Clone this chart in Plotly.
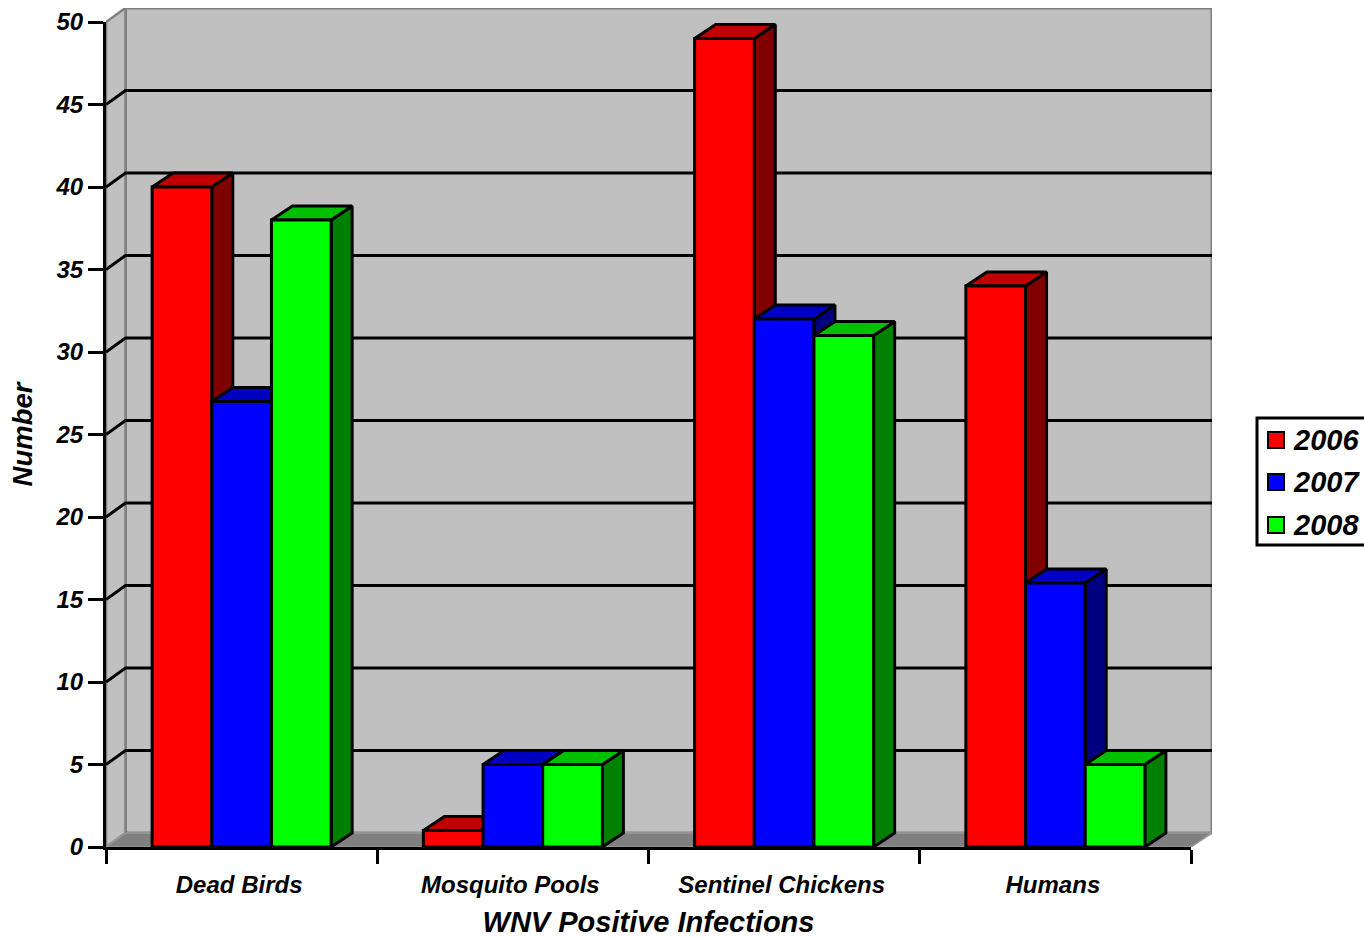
import plotly.graph_objects as go

# Chart data
categories = ["Dead Birds", "Mosquito Pools", "Sentinel Chickens", "Humans"]
years = ["2006", "2007", "2008"]
values_2006 = [40, 1, 49, 34]
values_2007 = [27, 5, 32, 16]
values_2008 = [38, 5, 31, 5]
y_ticks = [0, 5, 10, 15, 20, 25, 30, 35, 40, 45, 50]

series = [values_2006, values_2007, values_2008]
front_colors = ["#ff0000", "#0000ff", "#00ff00"]
top_colors = ["#c00000", "#0000c0", "#00c000"]
side_colors = ["#800000", "#000080", "#008000"]

FONT = "Liberation Sans"
W, H = 1364, 938
LEFT, RIGHT, BACK_RIGHT = 106, 1191, 1212
BASE, TOP, BACK_TOP = 847, 22, 8
INK = 3

# Oblique projection offsets, expressed in data units of the front axes
n_cat = len(categories)
x_unit = (RIGHT - LEFT) / n_cat
y_unit = (BASE - TOP) / y_ticks[-1]
DX = 21 / x_unit
DY = 14 / y_unit
WALL_DX = 19.5 / x_unit
BAR_W = 0.22
LABEL_SHIFT = -2.5 / x_unit

fig = go.Figure()


def polygon(xs, ys, fill, line="#000000", width=INK):
    fig.add_trace(go.Scatter(
        x=xs + xs[:1], y=ys + ys[:1], mode="lines", fill="toself",
        fillcolor=fill, line=dict(color=line, width=width),
        hoverinfo="skip", showlegend=False, xaxis="x", yaxis="y",
    ))


x_max, y_max = n_cat, y_ticks[-1]

# Back wall, side wall and floor
polygon([WALL_DX, x_max + DX, x_max + DX, WALL_DX], [DY, DY, y_max + DY, y_max + DY], "#c0c0c0", "#808080", 3)
polygon([0, WALL_DX, WALL_DX, 0], [0, DY, y_max + DY, y_max], "#c0c0c0", "#808080", 2.5)
polygon([0, x_max, x_max + DX, WALL_DX], [0, 0, DY, DY], "#808080", "#999999", 1.5)

# Gridlines running along the side wall and across the back wall
for t in y_ticks[1:-1]:
    fig.add_trace(go.Scatter(
        x=[0, WALL_DX, x_max + DX], y=[t, t + DY, t + DY], mode="lines",
        line=dict(color="#000000", width=INK), hoverinfo="skip",
        showlegend=False, xaxis="x", yaxis="y",
    ))

# Top and side faces of each bar, painted left to right
for c in range(n_cat):
    centre = c + 0.5
    for s, vals in enumerate(series):
        v = vals[c]
        x0 = centre + (s - 1.5) * BAR_W
        x1 = x0 + BAR_W
        polygon([x1, x1 + DX, x1 + DX, x1], [0, DY, v + DY, v], side_colors[s])
        polygon([x0, x1, x1 + DX, x0 + DX], [v, v, v + DY, v + DY], top_colors[s])

# Front faces
for s, vals in enumerate(series):
    fig.add_trace(go.Bar(
        x=[c + 0.5 for c in range(n_cat)], y=vals, name=years[s],
        marker=dict(color=front_colors[s], line=dict(color="#000000", width=INK)),
        showlegend=False, xaxis="x2", yaxis="y2",
    ))

# Category labels sit on their own axis so tick marks can stay on the group boundaries
fig.add_trace(go.Scatter(x=[None], y=[None], showlegend=False, xaxis="x3", yaxis="y2"))


def font(size):
    return dict(family=FONT, size=size, color="#000000", weight="bold", style="italic")


# Legend box running off the right edge of the page
LEG_L, LEG_T, LEG_B = 1257, 418, 545
LEG_ROWS = [440, 482, 525]
shapes = [dict(type="rect", xref="paper", yref="paper",
               x0=LEG_L / W, x1=(W + 10) / W, y0=1 - LEG_B / H, y1=1 - LEG_T / H,
               line=dict(color="#000000", width=INK), fillcolor="#ffffff")]
annotations = []
for year, row, colour in zip(years, LEG_ROWS, front_colors):
    shapes.append(dict(type="rect", xref="paper", yref="paper",
                       x0=1268 / W, x1=1284 / W, y0=1 - (row + 8) / H, y1=1 - (row - 8) / H,
                       line=dict(color="#000000", width=2), fillcolor=colour))
    annotations.append(dict(text=year, xref="paper", yref="paper", x=1291 / W, y=1 - row / H,
                            xanchor="left", yanchor="middle", showarrow=False, font=font(29)))

dom_front = [LEFT / W, RIGHT / W]
dom_back = [LEFT / W, BACK_RIGHT / W]
ydom_front = [1 - BASE / H, 1 - TOP / H]
ydom_back = [1 - BASE / H, 1 - BACK_TOP / H]

fig.update_layout(
    width=W, height=H, autosize=False,
    margin=dict(l=0, r=0, t=0, b=0, autoexpand=False),
    paper_bgcolor="#ffffff", plot_bgcolor="rgba(0,0,0,0)",
    barmode="group", bargap=1 - 3 * BAR_W, bargroupgap=0,
    xaxis=dict(domain=dom_back, range=[0, x_max * (BACK_RIGHT - LEFT) / (RIGHT - LEFT)],
               visible=False, anchor="y"),
    yaxis=dict(domain=ydom_back, range=[0, y_max * (BASE - BACK_TOP) / (BASE - TOP)],
               visible=False, anchor="x"),
    xaxis2=dict(domain=dom_front, range=[0, x_max], anchor="y2", tickmode="array",
                tickvals=list(range(n_cat + 1)), ticktext=[""] * (n_cat + 1),
                ticks="outside", ticklen=14, tickwidth=INK, tickcolor="#000000",
                showline=True, linecolor="#000000", linewidth=INK,
                showgrid=False, zeroline=False),
    yaxis2=dict(domain=ydom_front, range=[0, y_max], anchor="x2", tickmode="array",
                tickvals=y_ticks, ticks="outside", ticklen=15, tickwidth=INK,
                tickcolor="#000000", tickfont=font(24),
                showline=True, linecolor="#000000", linewidth=INK,
                showgrid=False, zeroline=False,
                title=dict(text="Number", font=font(27.5), standoff=15)),
    xaxis3=dict(overlaying="x2", range=[0, x_max], anchor="y2", side="bottom",
                tickmode="array", tickvals=[c + 0.5 + LABEL_SHIFT for c in range(n_cat)],
                ticktext=categories, ticks="outside", ticklen=16,
                tickcolor="rgba(0,0,0,0)", tickfont=font(24),
                showgrid=False, zeroline=False, showline=False,
                title=dict(text="WNV Positive Infections", font=font(29), standoff=20)),
    shapes=shapes, annotations=annotations,
    hovermode=False, showlegend=False,
)

fig.write_html("out.html", config=dict(displayModeBar=False))
